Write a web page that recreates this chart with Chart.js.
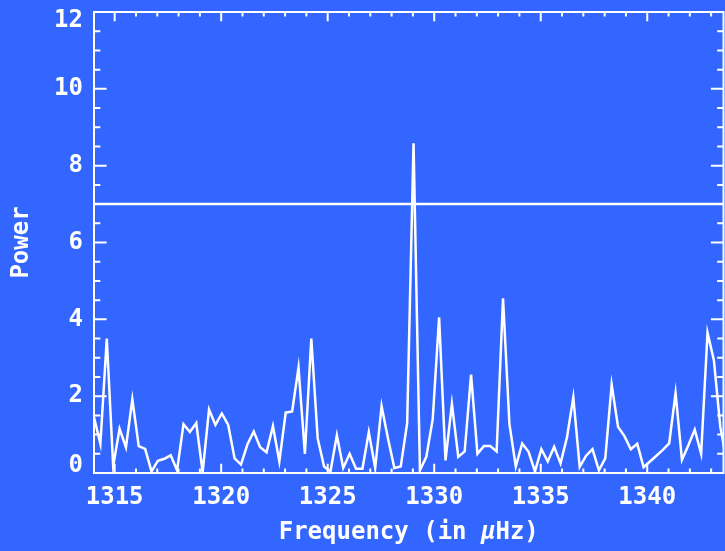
<!DOCTYPE html>
<html>
<head>
<meta charset="utf-8">
<script src="https://cdn.jsdelivr.net/npm/chart.js@4/dist/chart.umd.min.js"></script>
<style>
  html, body { margin: 0; padding: 0; background: #3366ff; }
  canvas { display: block; }
</style>
</head>
<body>
<canvas id="c" width="725" height="551"></canvas>
<script>
// Frequency bins (µHz) of the power spectrum
const frequency = [
  1314.03, 1314.33, 1314.63, 1314.93, 1315.23, 1315.53, 1315.83, 1316.13, 1316.43, 1316.73,
  1317.03, 1317.33, 1317.63, 1317.93, 1318.23, 1318.53, 1318.83, 1319.13, 1319.43, 1319.73,
  1320.03, 1320.33, 1320.63, 1320.93, 1321.23, 1321.53, 1321.83, 1322.13, 1322.43, 1322.73,
  1323.03, 1323.33, 1323.63, 1323.93, 1324.23, 1324.53, 1324.83, 1325.13, 1325.43, 1325.73,
  1326.03, 1326.33, 1326.63, 1326.93, 1327.23, 1327.53, 1327.83, 1328.13, 1328.43, 1328.73,
  1329.03, 1329.33, 1329.63, 1329.93, 1330.23, 1330.53, 1330.83, 1331.13, 1331.43, 1331.73,
  1332.03, 1332.33, 1332.63, 1332.93, 1333.23, 1333.53, 1333.83, 1334.13, 1334.43, 1334.73,
  1335.03, 1335.33, 1335.63, 1335.93, 1336.23, 1336.53, 1336.83, 1337.13, 1337.43, 1337.73,
  1338.03, 1338.33, 1338.63, 1338.93, 1339.23, 1339.53, 1339.83, 1340.13, 1340.43, 1340.73,
  1341.03, 1341.33, 1341.63, 1341.93, 1342.23, 1342.53, 1342.83, 1343.13, 1343.43, 1343.73
];

// Spectral power in each bin
const power = [
  1.45, 0.76, 3.50, 0.18, 1.15, 0.67, 1.92, 0.70, 0.63, 0.04,
  0.32, 0.37, 0.46, 0.07, 1.27, 1.07, 1.30, 0.02, 1.65, 1.25,
  1.55, 1.25, 0.38, 0.22, 0.74, 1.08, 0.67, 0.54, 1.22, 0.30,
  1.57, 1.60, 2.74, 0.50, 3.50, 0.90, 0.17, 0.04, 0.98, 0.13,
  0.50, 0.11, 0.11, 1.06, 0.13, 1.74, 0.90, 0.13, 0.17, 1.30,
  8.58, 0.07, 0.42, 1.40, 4.05, 0.33, 1.80, 0.42, 0.56, 2.56,
  0.50, 0.70, 0.70, 0.56, 4.55, 1.28, 0.17, 0.77, 0.55, 0.04,
  0.62, 0.30, 0.68, 0.25, 0.92, 1.97, 0.16, 0.45, 0.62, 0.07,
  0.38, 2.30, 1.20, 0.96, 0.62, 0.76, 0.15, 0.30, 0.45, 0.60,
  0.77, 2.08, 0.34, 0.72, 1.13, 0.50, 3.65, 2.93, 1.20, 0.30
];

// Detection threshold level
const threshold = 7;

// Axis ranges and labelled ticks
const xRange = [1314.03, 1343.58];
const yRange = [0, 12];
const xTickLabels = [1315, 1320, 1325, 1330, 1335, 1340];
const yTickLabels = [0, 2, 4, 6, 8, 10, 12];

const FONT_FAMILY = '"DejaVu Sans Mono", monospace';
const FONT_SIZE = 24;
const INK = '#ffffff';

// Box frame with inward major/minor ticks on all four sides, plus y labels and x title
const framePlugin = {
  id: 'frame',
  afterDraw(chart) {
    const { ctx, chartArea: a, scales: { x, y } } = chart;
    ctx.save();
    ctx.strokeStyle = INK;
    ctx.lineWidth = 2;
    ctx.strokeRect(a.left, a.top, a.right - a.left, a.bottom - a.top);
    ctx.beginPath();
    const xMajor = 9.2, xMinor = 4.6, yMajor = 12.6, yMinor = 6.3;
    for (let v = Math.ceil(x.min); v <= x.max; v++) {
      const px = x.getPixelForValue(v);
      const len = v % 5 === 0 ? xMajor : xMinor;
      ctx.moveTo(px, a.bottom); ctx.lineTo(px, a.bottom - len);
      ctx.moveTo(px, a.top); ctx.lineTo(px, a.top + len);
    }
    for (let k = 0; y.min + k * 0.5 <= y.max + 1e-9; k++) {
      const v = y.min + k * 0.5;
      const py = y.getPixelForValue(v);
      const len = k % 4 === 0 ? yMajor : yMinor;
      ctx.moveTo(a.left, py); ctx.lineTo(a.left + len, py);
      ctx.moveTo(a.right, py); ctx.lineTo(a.right - len, py);
    }
    ctx.stroke();

    ctx.fillStyle = INK;

    // y tick labels, kept within the height of the plot box
    ctx.font = `bold ${FONT_SIZE}px ${FONT_FAMILY}`;
    ctx.textAlign = 'right';
    ctx.textBaseline = 'middle';
    yTickLabels.forEach(v => {
      const py = Math.min(Math.max(y.getPixelForValue(v), a.top + 9), a.bottom - 7);
      ctx.fillText(String(v), a.left - 11, py);
    });

    // x-axis title with an italic mu
    const parts = [
      { t: 'Frequency (in ', style: 'bold' },
      { t: 'μ', style: 'italic bold' },
      { t: 'Hz)', style: 'bold' }
    ];
    let total = 0;
    parts.forEach(p => {
      ctx.font = `${p.style} ${FONT_SIZE}px ${FONT_FAMILY}`;
      p.w = ctx.measureText(p.t).width;
      total += p.w;
    });
    let cx = (a.left + a.right) / 2 - total / 2;
    ctx.textBaseline = 'middle';
    ctx.textAlign = 'left';
    parts.forEach(p => {
      ctx.font = `${p.style} ${FONT_SIZE}px ${FONT_FAMILY}`;
      ctx.fillText(p.t, cx, 533);
      cx += p.w;
    });
    ctx.restore();
  }
};

const tickFont = { family: FONT_FAMILY, size: FONT_SIZE, weight: 'bold' };

new Chart(document.getElementById('c'), {
  type: 'line',
  data: {
    datasets: [
      {
        data: frequency.map((f, i) => ({ x: f, y: power[i] })),
        borderColor: INK,
        borderWidth: 2.5,
        pointRadius: 0,
        tension: 0,
        fill: false
      },
      {
        data: [{ x: xRange[0], y: threshold }, { x: xRange[1], y: threshold }],
        borderColor: INK,
        borderWidth: 2.5,
        pointRadius: 0,
        tension: 0,
        fill: false
      }
    ]
  },
  options: {
    responsive: false,
    animation: false,
    events: [],
    layout: { padding: { top: 12, right: 1.5, left: 0, bottom: 0 } },
    plugins: { legend: { display: false }, tooltip: { enabled: false } },
    scales: {
      x: {
        type: 'linear',
        min: xRange[0],
        max: xRange[1],
        grid: { display: false, drawTicks: false },
        border: { display: false },
        afterBuildTicks: s => { s.ticks = xTickLabels.map(v => ({ value: v })); },
        afterFit: s => { s.height = 78; s.paddingLeft = 0; s.paddingRight = 0; },
        ticks: {
          color: INK, font: tickFont, padding: 10,
          maxRotation: 0, autoSkip: false,
          callback: v => String(v)
        }
      },
      y: {
        type: 'linear',
        min: yRange[0],
        max: yRange[1],
        grid: { display: false, drawTicks: false },
        border: { display: false },
        afterBuildTicks: s => { s.ticks = yTickLabels.map(v => ({ value: v })); },
        afterFit: s => { s.width = 94; s.paddingTop = 0; s.paddingBottom = 0; },
        ticks: { display: false },
        title: {
          display: true, text: 'Power', color: INK,
          font: tickFont, padding: { top: 7, bottom: 0 }
        }
      }
    }
  },
  plugins: [framePlugin]
});
</script>
</body>
</html>
